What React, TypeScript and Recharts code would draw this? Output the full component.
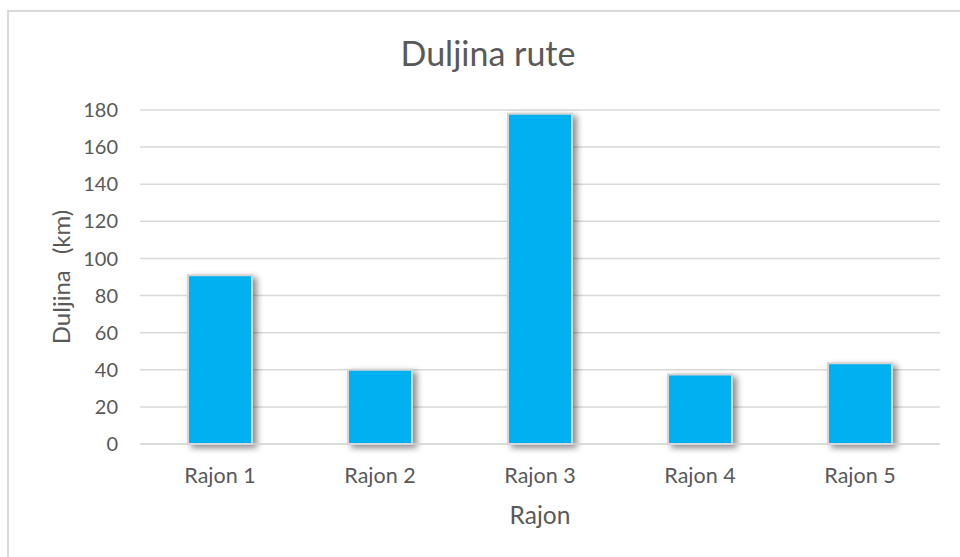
import React from "react";
import { BarChart, Bar, XAxis, YAxis, CartesianGrid, Rectangle } from "recharts";

const categories = ["Rajon 1", "Rajon 2", "Rajon 3", "Rajon 4", "Rajon 5"];
const lengths = [91, 40, 178, 37.5, 43.5];
const yTicks = [0, 20, 40, 60, 80, 100, 120, 140, 160, 180];

const data = categories.map((name, i) => ({ name, value: lengths[i] }));

const FONT = "Lato, 'Open Sans', sans-serif";
const TEXT = "#595959";

const ShadowBar = (props: any) => (
  <Rectangle
    {...props}
    fill="#00B0F0"
    stroke="#d4d4d4"
    strokeWidth={2}
    style={{ filter: "drop-shadow(4px 3px 3px rgba(0,0,0,0.45))" }}
  />
);

export default function App() {
  return (
    <div style={{ position: "fixed", left: 0, top: 0, width: 960, height: 557, background: "#fff", overflow: "hidden" }}>
      <div
        style={{
          position: "absolute",
          left: 7,
          top: 10,
          width: 1000,
          height: 600,
          border: "2px solid #d9d9d9",
          boxSizing: "border-box",
        }}
      />
      <div
        style={{
          position: "absolute",
          left: 0,
          width: 976,
          top: 33,
          textAlign: "center",
          fontFamily: FONT,
          fontSize: 34,
          color: TEXT,
          lineHeight: "40px",
        }}
      >
        Duljina rute
      </div>
      <div style={{ position: "absolute", left: 0, top: 0 }}>
        <BarChart
          width={960}
          height={557}
          data={data}
          margin={{ top: 110, right: 20, bottom: 33, left: 70 }}
          barCategoryGap="30%"
        >
          <CartesianGrid vertical={false} stroke="#d9d9d9" strokeWidth={1.5} />
          <XAxis
            dataKey="name"
            interval={0}
            axisLine={{ stroke: "#d9d9d9", strokeWidth: 1.5 }}
            tickLine={false}
            tickMargin={18}
            tick={{ fill: TEXT, fontFamily: FONT, fontSize: 21.5 }}
            label={{
              value: "Rajon",
              position: "insideBottom",
              offset: 0,
              dy: 0,
              fill: TEXT,
              fontFamily: FONT,
              fontSize: 24.5,
            }}
            height={80}
          />
          <YAxis
            domain={[0, 180]}
            ticks={yTicks}
            interval={0}
            axisLine={false}
            tickLine={false}
            tickSize={6}
            tickMargin={16}
            width={70}
            tick={{ fill: TEXT, fontFamily: FONT, fontSize: 20 }}
            label={{
              value: "Duljina (km)",
              angle: -90,
              position: "insideLeft",
              dx: -14,
              fill: TEXT,
              fontFamily: FONT,
              fontSize: 24,
              style: { textAnchor: "middle", wordSpacing: 10 },
            }}
          />
          <Bar dataKey="value" isAnimationActive={false} shape={<ShadowBar />} />
        </BarChart>
      </div>
    </div>
  );
}
